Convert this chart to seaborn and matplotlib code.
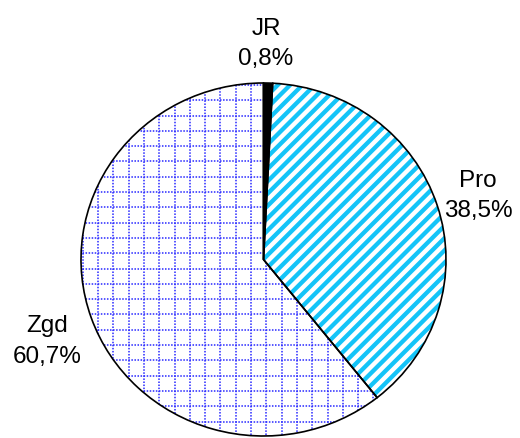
import numpy as np
import matplotlib
matplotlib.use("Agg")
import matplotlib.pyplot as plt
import seaborn as sns
from matplotlib.lines import Line2D
from matplotlib.transforms import IdentityTransform

# ---- data ----
categories = ["JR", "Pro", "Zgd"]
shares = [0.8, 38.5, 60.7]
share_labels = ["0,8%", "38,5%", "60,7%"]

sns.set_theme(style="white")
plt.rcParams["font.family"] = ["Liberation Sans", "DejaVu Sans"]

W, H = 520, 438
fig = plt.figure(figsize=(W / 100, H / 100), dpi=100)
fig.patch.set_facecolor("white")

# pie bounding box in pixels (from top-left)
left, right, top, bottom = 81, 446, 83, 436
ax = fig.add_axes([left / W, (H - bottom) / H, (right - left) / W, (bottom - top) / H])

face_colors = ["black", "white", "white"]
wedges, _ = ax.pie(shares, startangle=90, counterclock=False, colors=face_colors,
                   wedgeprops=dict(edgecolor="none", linewidth=0))
ax.set_xlim(-1, 1)
ax.set_ylim(-1, 1)
ax.set_aspect("auto")
ax.axis("off")

ident = IdentityTransform()

# Pro: diagonal cyan stripes
pro = wedges[1]
period = 12.3
for c in np.arange(-H - W, W + H, period):
    xs = np.array([-50, W + 50])
    ys = xs + c
    ln = Line2D(xs, ys, transform=ident, color="#14c4f8", lw=3.1, zorder=2,
                solid_capstyle="butt")
    ax.add_line(ln)
    ln.set_clip_path(pro)

# Zgd: blue dotted grid
zgd = wedges[2]
step = 15.3
x0 = 113.3 % step
y0 = (H - 207.3) % step
for gx in np.arange(x0, W, step):
    ln = Line2D([gx, gx], [0, H], transform=ident, color="#2828ff", lw=1.1,
                linestyle=(0, (1.0, 1.0)), zorder=2)
    ax.add_line(ln)
    ln.set_clip_path(zgd)
for gy in np.arange(y0, H, step):
    ln = Line2D([0, W], [gy, gy], transform=ident, color="#2828ff", lw=1.1,
                linestyle=(0, (1.0, 1.0)), zorder=2)
    ax.add_line(ln)
    ln.set_clip_path(zgd)

# outlines on top
w2, _ = ax.pie(shares, startangle=90, counterclock=False, colors=face_colors,
               wedgeprops=dict(edgecolor="black", linewidth=1.2, fill=False))
for w in w2:
    w.set_zorder(3)
ax.set_xlim(-1, 1)
ax.set_ylim(-1, 1)
ax.set_aspect("auto")

# labels (pixel positions: centre x, baselines from top)
label_pos = {"JR": (266, 35, 65), "Pro": (478, 187, 217), "Zgd": (47, 332, 363)}
for cat, lab in zip(categories, share_labels):
    cx, b1, b2 = label_pos[cat]
    fig.text(cx, H - b1, cat, transform=ident, ha="center", va="baseline",
             fontsize=17.5, color="black")
    fig.text(cx, H - b2, lab, transform=ident, ha="center", va="baseline",
             fontsize=17.5, color="black")

fig.savefig("out.png", dpi=100, facecolor="white")
